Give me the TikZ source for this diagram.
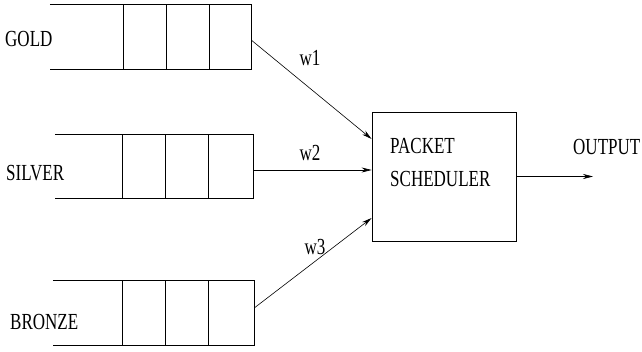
\documentclass[tikz,border=0pt]{standalone}
\usepackage{fontspec}
\setmainfont{Liberation Serif}[FakeStretch=0.74]
\usetikzlibrary{arrows.meta,calc}
\begin{document}
\begin{tikzpicture}[x=1pt,y=-1pt,
  lbl/.style={font=\fontsize{23}{26}\selectfont, inner sep=0pt, anchor=west},
  qarea/.style={inner sep=0pt, minimum width=#1, minimum height=64pt},
  qline/.style={line width=0.8pt},
  conn/.style={line width=0.6pt, -{Stealth[length=10pt,width=5pt]}},
  sbox/.style={draw, line width=0.8pt, inner sep=0pt, minimum width=144pt, minimum height=129pt}]
\useasboundingbox (0,0) rectangle (642,351);
% queues
\node[qarea=201pt] (gold) at (150.5,37) {};
\node[qarea=198pt] (silver) at (154,166.5) {};
\node[qarea=201pt] (bronze) at (153.5,313) {};
\foreach \q/\a/\b/\c in {gold/123/166/209, silver/122/165/208, bronze/122/165/208}{
  \draw[qline] (\q.north west) -- (\q.north east) -- (\q.south east) -- (\q.south west);
  \foreach \xx in {\a,\b,\c}{
    \draw[qline] (\xx,0 |- \q.north) -- (\xx,0 |- \q.south);
  }
}
% labels
\node[lbl] (lgold) at (5,39) {GOLD};
\node[lbl] (lsilver) at (6,173) {SILVER};
\node[lbl] (lbronze) at (10,322) {BRONZE};
% scheduler
\node[sbox] (sched) at (444,176.5) {};
\node[lbl] (t1) at (390,146) {PACKET};
\node[lbl] (t2) at (390,179) {SCHEDULER};
\node[lbl] (tout) at (573,147) {OUTPUT};
\coordinate (outend) at (593,176.5);
% connectors
\coordinate (g0) at ($(gold.east)+(0,3)$);
\coordinate (g1) at (sched.west |- 0,139);
\coordinate (s0) at (silver.east |- 0,170);
\coordinate (s1) at (sched.west |- 0,170);
\coordinate (b0) at ($(bronze.east)+(0,-5)$);
\coordinate (b1) at (sched.west |- 0,218);
\draw[conn] (g0) -- (g1);
\draw[conn] (s0) -- (s1);
\draw[conn] (b0) -- (b1);
\draw[conn] (sched.east |- outend) -- (outend);
% weights
\node[lbl, anchor=center] (w1) at (310,58) {w1};
\node[lbl, anchor=center] (w2) at (310,153) {w2};
\node[lbl, anchor=center] (w3) at (315,247) {w3};
\end{tikzpicture}
\end{document}
